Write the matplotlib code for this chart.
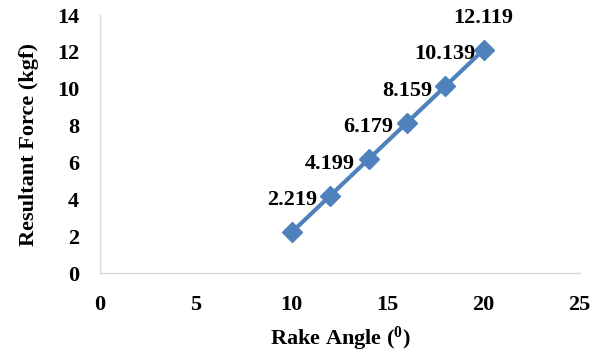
import matplotlib
matplotlib.use("Agg")
import matplotlib.pyplot as plt

rake_angle = [10, 12, 14, 16, 18, 20]
resultant_force = [2.219, 4.199, 6.179, 8.159, 10.139, 12.119]
x_ticks = [0, 5, 10, 15, 20, 25]
y_ticks = [0, 2, 4, 6, 8, 10, 12, 14]

plt.rcParams['font.family'] = ['Liberation Serif', 'DejaVu Serif']
plt.rcParams['font.weight'] = 'bold'
plt.rcParams['mathtext.fontset'] = 'custom'
plt.rcParams['mathtext.rm'] = 'Liberation Serif:bold'
plt.rcParams['mathtext.default'] = 'rm'

fig = plt.figure(figsize=(6.11, 3.58), dpi=100)
ax = fig.add_axes([0.1637, 0.2374, 0.785, 0.7206])

color = '#4F81BD'
ax.plot(rake_angle, resultant_force, color=color, lw=3.0, marker='D',
        markersize=10, markerfacecolor=color, markeredgecolor=color, zorder=3)

for x, y in zip(rake_angle, resultant_force):
    ax.annotate(f"{y:.3f}", (x, y), xytext=(0, 23), textcoords='offset points',
                ha='center', va='center', fontsize=16, fontweight='bold')

ax.set_xlim(0, 25)
ax.set_ylim(0, 14)
ax.set_xticks(x_ticks)
ax.set_yticks(y_ticks)
ax.tick_params(axis='both', length=0, labelsize=16)
ax.tick_params(axis='x', pad=16)
ax.tick_params(axis='y', pad=15)
for lab in ax.get_xticklabels() + ax.get_yticklabels():
    lab.set_fontweight('bold')

for s in ['top', 'right']:
    ax.spines[s].set_visible(False)
for s in ['left', 'bottom']:
    ax.spines[s].set_color('#D9D9D9')
    ax.spines[s].set_linewidth(1.0)

ax.set_xlabel('Rake Angle ($^{0}$)', fontsize=16, fontweight='bold', labelpad=7)
ax.set_ylabel('Resultant Force (kgf)', fontsize=16, fontweight='bold', labelpad=13)

fig.savefig('out.png', dpi=100)
